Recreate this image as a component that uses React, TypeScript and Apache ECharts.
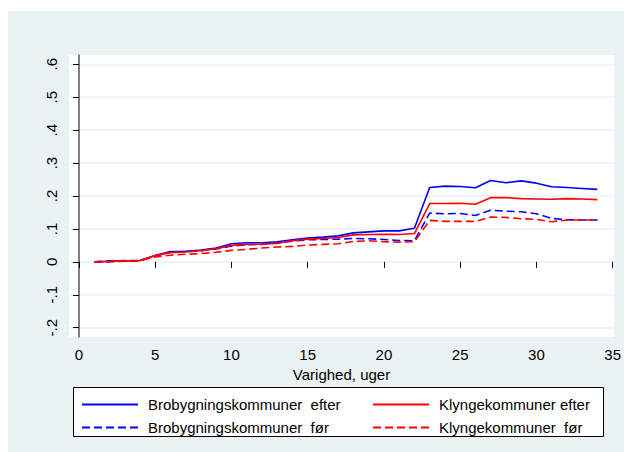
import { useEffect, useRef } from "react";
import * as echarts from "echarts";

const weeks = [1, 2, 3, 4, 5, 6, 7, 8, 9, 10, 11, 12, 13, 14, 15, 16, 17, 18, 19, 20, 21, 22, 23, 24, 25, 26, 27, 28, 29, 30, 31, 32, 33, 34];

const broEfter = [0.0, 0.002, 0.003, 0.004, 0.019, 0.031, 0.032, 0.036, 0.042, 0.055, 0.058, 0.058, 0.061, 0.067, 0.072, 0.075, 0.079, 0.088, 0.091, 0.094, 0.094, 0.102, 0.226, 0.23, 0.229, 0.225, 0.247, 0.24, 0.246, 0.239, 0.228, 0.226, 0.223, 0.22];
const broFoer = [0.0, 0.003, 0.004, 0.004, 0.018, 0.03, 0.031, 0.034, 0.039, 0.048, 0.052, 0.053, 0.058, 0.063, 0.067, 0.068, 0.069, 0.071, 0.07, 0.068, 0.065, 0.064, 0.148, 0.146, 0.147, 0.141, 0.157, 0.154, 0.152, 0.146, 0.132, 0.128, 0.127, 0.127];
const klyngeEfter = [0.0, 0.001, 0.003, 0.004, 0.019, 0.028, 0.03, 0.034, 0.04, 0.05, 0.053, 0.054, 0.056, 0.064, 0.069, 0.071, 0.074, 0.082, 0.083, 0.084, 0.083, 0.086, 0.177, 0.177, 0.178, 0.175, 0.195, 0.195, 0.192, 0.191, 0.19, 0.192, 0.191, 0.189];
const klyngeFoer = [0.0, 0.0, 0.002, 0.003, 0.015, 0.02, 0.023, 0.025, 0.029, 0.035, 0.038, 0.042, 0.045, 0.047, 0.051, 0.053, 0.055, 0.062, 0.064, 0.061, 0.06, 0.061, 0.126, 0.123, 0.123, 0.123, 0.136, 0.135, 0.131, 0.129, 0.122, 0.127, 0.127, 0.127];

const seriesNames = [
  "Brobygningskommuner  efter",
  "Brobygningskommuner  før",
  "Klyngekommuner efter",
  "Klyngekommuner  før",
];

const xTicks = [0, 5, 10, 15, 20, 25, 30, 35];
const yTicks = [-0.2, -0.1, 0, 0.1, 0.2, 0.3, 0.4, 0.5, 0.6];
const yTickLabels = ["-.2", "-.1", "0", ".1", ".2", ".3", ".4", ".5", ".6"];
const xTitle = "Varighed, uger";

const FONT = "'Liberation Sans', Arial, sans-serif";
const BLUE = "#0000ff";
const RED = "#ff0000";

export default function App() {
  const ref = useRef<HTMLDivElement>(null);

  useEffect(() => {
    if (!ref.current) return;
    const chart = echarts.init(ref.current, null, { renderer: "svg" });
    const pairs = (vals: number[]) => weeks.map((w, i) => [w, vals[i]]);
    const mk = (name: string, vals: number[], color: string, dashed: boolean) => ({
      name,
      type: "line",
      data: pairs(vals),
      symbol: "none",
      showSymbol: false,
      color,
      lineStyle: { color, width: 1.6, type: dashed ? [8, 4] : "solid" },
      z: 3,
    });
    const legendCommon = {
      orient: "vertical",
      top: 397,
      itemWidth: 56,
      itemHeight: 14,
      itemGap: 8,
      padding: 0,
      itemStyle: { opacity: 0 },
      textStyle: { fontSize: 15, color: "#000", fontFamily: FONT, padding: [0, 0, 0, 5] },
    };
    chart.setOption({
      animation: false,
      textStyle: { fontFamily: FONT },
      grid: {
        left: 69,
        right: 7,
        top: 55,
        bottom: 115,
        show: true,
        backgroundColor: "#ffffff",
        borderWidth: 0,
      },
      xAxis: {
        type: "value",
        min: -0.652,
        max: 35.09,
        name: xTitle,
        nameLocation: "middle",
        nameGap: 26,
        nameTextStyle: { fontSize: 15, color: "#000", fontFamily: FONT },
        axisLine: { show: false },
        axisTick: { show: true, length: 6, customValues: xTicks, lineStyle: { color: "#000", width: 1 } },
        axisLabel: { customValues: xTicks, fontSize: 15, color: "#000", margin: 10, fontFamily: FONT },
        splitLine: { show: false },
      },
      yAxis: {
        type: "value",
        min: -0.2282,
        max: 0.6282,
        axisLine: { show: true, lineStyle: { color: "#555", width: 1.5 } },
        axisTick: { show: true, length: 6, customValues: yTicks, lineStyle: { color: "#000", width: 1 } },
        axisLabel: {
          customValues: yTicks,
          rotate: 90,
          fontSize: 15,
          color: "#000",
          margin: 10,
          fontFamily: FONT,
          formatter: (v: number) => {
            const i = yTicks.findIndex((t) => Math.abs(t - v) < 1e-6);
            return i >= 0 ? yTickLabels[i] : "";
          },
        },
        splitLine: { show: true, lineStyle: { color: "#eaf2f3", width: 1.5 } },
      },
      legend: [
        { ...legendCommon, data: [seriesNames[0], seriesNames[1]], left: 81 },
        { ...legendCommon, data: [seriesNames[2], seriesNames[3]], left: 372 },
      ],
      graphic: [
        {
          type: "rect",
          z: 1,
          shape: { x: 73.5, y: 387.5, width: 530, height: 49 },
          style: { fill: "#ffffff", stroke: "#000000", lineWidth: 1 },
        },
      ],
      series: [
        mk(seriesNames[0], broEfter, BLUE, false),
        mk(seriesNames[1], broFoer, BLUE, true),
        mk(seriesNames[2], klyngeEfter, RED, false),
        mk(seriesNames[3], klyngeFoer, RED, true),
      ],
    });
    return () => chart.dispose();
  }, []);

  return (
    <div style={{ position: "fixed", left: 0, top: 0, width: 624, height: 452, background: "#ffffff" }}>
      <div style={{ position: "absolute", left: 8, top: 11, width: 616, height: 441, background: "#eaf2f3" }} />
      <div ref={ref} style={{ position: "absolute", left: 0, top: 0, width: 624, height: 452 }} />
    </div>
  );
}
